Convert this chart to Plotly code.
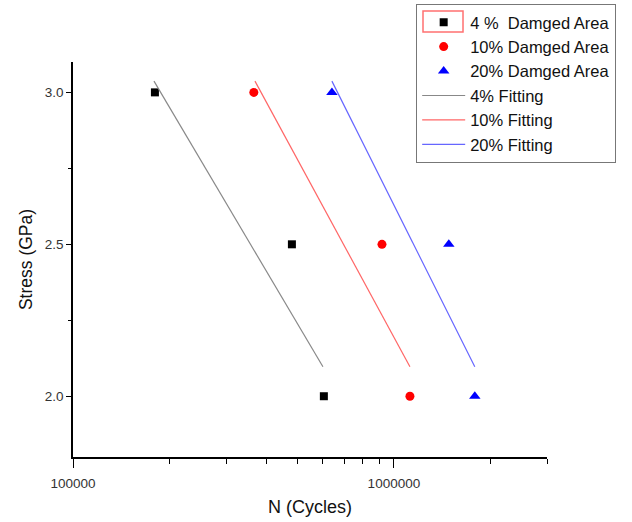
import plotly.graph_objects as go

stress = [3.0, 2.5, 2.0]
cycles_4 = [1.80e5, 4.81e5, 6.05e5]
cycles_10 = [3.66e5, 9.18e5, 1.122e6]
cycles_20 = [6.41e5, 1.483e6, 1.787e6]

fit_stress = [3.037, 2.097]
fit_4 = [1.788e5, 6.01e5]
fit_10 = [3.69e5, 1.122e6]
fit_20 = [6.41e5, 1.787e6]

x_tickvals = [1e5, 1e6]
x_ticktext = ["100000", "1000000"]
x_minor = [2e5, 3e5, 4e5, 5e5, 6e5, 7e5, 8e5, 9e5, 2e6, 3e6]
y_tickvals = [2.0, 2.5, 3.0]
y_ticktext = ["2.0", "2.5", "3.0"]
y_minor = [2.25, 2.75]

FONT = "Liberation Sans, Arial, sans-serif"

fig = go.Figure()
fig.add_trace(go.Scatter(x=cycles_4, y=stress, mode="markers", name="4 %  Damged Area",
                         marker=dict(symbol="square", size=8, color="black")))
fig.add_trace(go.Scatter(x=cycles_10, y=stress, mode="markers", name="10% Damged Area",
                         marker=dict(symbol="circle", size=9, color="red")))
fig.add_trace(go.Scatter(x=cycles_20, y=stress, mode="markers", name="20% Damged Area",
                         marker=dict(symbol="triangle-up", size=10, color="blue")))
fig.add_trace(go.Scatter(x=fit_4, y=fit_stress, mode="lines", name="4% Fitting",
                         line=dict(color="#888888", width=1.2)))
fig.add_trace(go.Scatter(x=fit_10, y=fit_stress, mode="lines", name="10% Fitting",
                         line=dict(color="#ff6666", width=1.2)))
fig.add_trace(go.Scatter(x=fit_20, y=fit_stress, mode="lines", name="20% Fitting",
                         line=dict(color="#6666ff", width=1.2)))

# selection box drawn around the first legend symbol in the original
fig.add_shape(type="rect", xref="paper", yref="paper",
              x0=0.7384, x1=0.8228, y0=1.0759, y1=1.1291,
              line=dict(color="#ff7070", width=1.5), fillcolor="rgba(0,0,0,0)", layer="above")

fig.update_layout(
    width=632, height=522,
    margin=dict(l=73, r=85, t=62, b=65, autoexpand=False),
    paper_bgcolor="white", plot_bgcolor="white",
    font=dict(family=FONT, color="#222222"),
    showlegend=True,
    legend=dict(x=0.724, y=1.147, xanchor="left", yanchor="top",
                bordercolor="#777777", borderwidth=1, bgcolor="rgba(0,0,0,0)",
                font=dict(size=16.5, family=FONT, color="#111111"),
                tracegroupgap=0, itemwidth=43),
    xaxis=dict(type="log", range=[5, 6.4771], showline=True, linecolor="black", linewidth=1.5,
               showgrid=False, zeroline=False, automargin=False, tickmode="array", tickvals=x_tickvals,
               ticktext=x_ticktext, ticks="outside", ticklen=9, tickwidth=1.2, tickcolor="black",
               tickfont=dict(size=13.5, color="#333333"), ticklabelstandoff=4,
               minor=dict(tickvals=x_minor, ticks="outside", ticklen=5, tickwidth=1, tickcolor="black"),
               title=dict(text="N (Cycles)", font=dict(size=18, color="#111111"), standoff=10)),
    yaxis=dict(range=[1.8, 3.1], showline=True, linecolor="black", linewidth=1.5,
               showgrid=False, zeroline=False, automargin=False, tickmode="array", tickvals=y_tickvals,
               ticktext=y_ticktext, ticks="outside", ticklen=5, tickwidth=1.2, tickcolor="black",
               tickfont=dict(size=13.5, color="#333333"),
               minor=dict(tickvals=y_minor, ticks="outside", ticklen=3, tickwidth=1, tickcolor="black"),
               title=dict(text="Stress (GPa)", font=dict(size=17.5, color="#111111"), standoff=8)),
)

fig.write_html("out.html", config={"displayModeBar": False},
               post_script="document.body.style.margin='0';")
